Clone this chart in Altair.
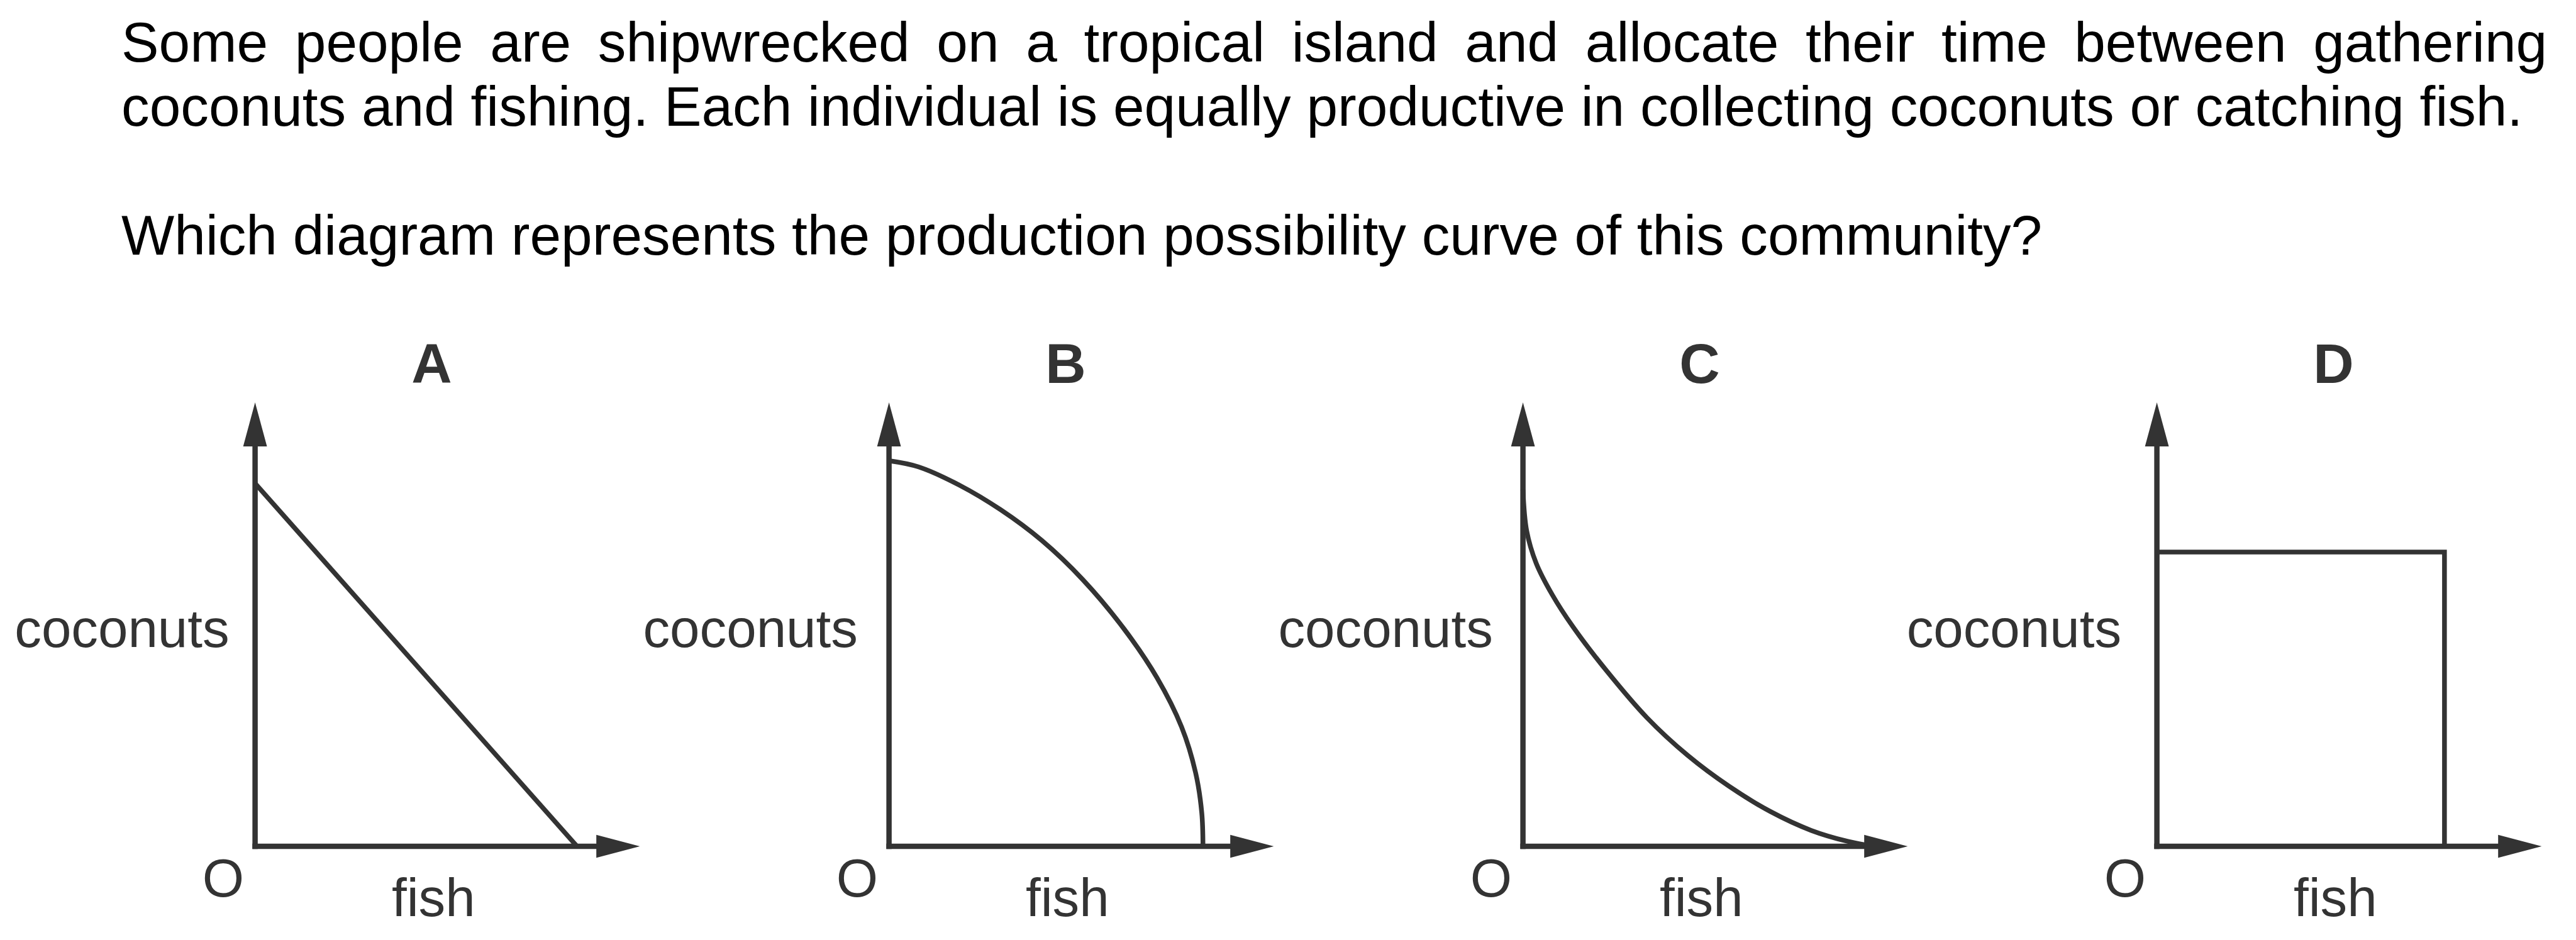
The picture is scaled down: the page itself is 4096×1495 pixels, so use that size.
import altair as alt
import pandas as pd

S = 0.975  # output scale relative to the reference

# ---------------- data ----------------
question_lines = [
    "Some people are shipwrecked on a tropical island and allocate their time between gathering",
    "coconuts and fishing. Each individual is equally productive in collecting coconuts or catching fish.",
    "Which diagram represents the production possibility curve of this community?",
]
question_rows = [0, 1, 3]

panel_names = ["A", "B", "C", "D"]
x_label = "fish"
y_label = "coconuts"
origin_label = "O"

# production possibility curves (fish, coconuts)
A_fish = [0, 525]
A_coco = [592, 0]

B_fish = [0, 48, 115, 182, 249, 316, 383, 437, 477, 500, 510, 512]
B_coco = [629, 619, 589, 549, 499, 435, 355, 275, 195, 120, 55, 0]

C_fish = [0, 6, 21.5, 48, 81.6, 135, 202, 269, 336, 403, 470, 530, 572]
C_coco = [582, 515, 462, 410, 358, 288, 210, 148, 98, 57, 26, 8, 0]

D_fish = [0, 469, 469]
D_coco = [480, 480, 0]

curves_fish = [A_fish, B_fish, C_fish, D_fish]
curves_coco = [A_coco, B_coco, C_coco, D_coco]
curve_interp = ["linear", "catmull-rom", "catmull-rom", "linear"]

# axis extent (arrow tips) in the same units
axis_fish_tip = 627.5
axis_coco_tip = 724

# ---------------- layout / style ----------------
INK = "#333333"
FONT = "Liberation Sans"
HEAD_LEN_Y, HEAD_HW_Y = 71.6, 19.4
HEAD_LEN_X, HEAD_HW_X = 71.0, 18.8
AXIS_W = 8.5
CURVE_W = 7.5
LABEL_SIZE = 87.5 * S
NAME_SIZE = 91.5 * S
TEXT_SIZE = 91.5 * S

X_DOM = [-405, 628]
Y_DOM = [-140, 840]
PW = (X_DOM[1] - X_DOM[0]) * S
PH = (Y_DOM[1] - Y_DOM[0]) * S

coconut_right = [-42, -51, -49, -58]

xs = alt.Scale(domain=X_DOM, nice=False, zero=False)
ys = alt.Scale(domain=Y_DOM, nice=False, zero=False)

up_path = f"M0,0L{HEAD_HW_Y / HEAD_LEN_Y:.4f},1L{-HEAD_HW_Y / HEAD_LEN_Y:.4f},1Z"
right_path = f"M0,0L-1,{-HEAD_HW_X / HEAD_LEN_X:.4f}L-1,{HEAD_HW_X / HEAD_LEN_X:.4f}Z"
up_size = (2 * HEAD_LEN_Y * S) ** 2
right_size = (2 * HEAD_LEN_X * S) ** 2


def panel(i):
    axes_df = pd.DataFrame({
        "x": [0, 0], "y": [0, 0],
        "x2": [0, axis_fish_tip - HEAD_LEN_X + 6],
        "y2": [axis_coco_tip - HEAD_LEN_Y + 6, 0],
    })
    axes = alt.Chart(axes_df).mark_rule(
        color=INK, strokeWidth=AXIS_W, strokeCap="square"
    ).encode(
        x=alt.X("x:Q", scale=xs, axis=None),
        y=alt.Y("y:Q", scale=ys, axis=None),
        x2="x2:Q", y2="y2:Q",
    )
    up_head = alt.Chart(pd.DataFrame({"x": [0], "y": [axis_coco_tip]})).mark_point(
        shape=up_path, filled=True, size=up_size, color=INK, opacity=1, strokeWidth=0
    ).encode(x=alt.X("x:Q", scale=xs, axis=None), y=alt.Y("y:Q", scale=ys, axis=None))
    right_head = alt.Chart(pd.DataFrame({"x": [axis_fish_tip], "y": [0]})).mark_point(
        shape=right_path, filled=True, size=right_size, color=INK, opacity=1, strokeWidth=0
    ).encode(x=alt.X("x:Q", scale=xs, axis=None), y=alt.Y("y:Q", scale=ys, axis=None))

    cdf = pd.DataFrame({
        "fish": curves_fish[i], "coco": curves_coco[i],
        "k": list(range(len(curves_fish[i]))),
    })
    curve = alt.Chart(cdf).mark_line(
        color=INK, strokeWidth=CURVE_W, interpolate=curve_interp[i],
        strokeJoin="miter", strokeCap="butt"
    ).encode(
        x=alt.X("fish:Q", scale=xs, axis=None),
        y=alt.Y("coco:Q", scale=ys, axis=None),
        order="k:Q",
    )

    lab_df = pd.DataFrame({"x": [-52, 291], "y": [-82, -114], "t": [origin_label, x_label]})
    labs = alt.Chart(lab_df).mark_text(
        font=FONT, fontSize=LABEL_SIZE, color=INK, align="center", baseline="alphabetic"
    ).encode(x=alt.X("x:Q", scale=xs, axis=None), y=alt.Y("y:Q", scale=ys, axis=None), text="t:N")

    ylab = alt.Chart(pd.DataFrame({"x": [coconut_right[i]], "y": [325], "t": [y_label]})).mark_text(
        font=FONT, fontSize=LABEL_SIZE, color=INK, align="right", baseline="alphabetic"
    ).encode(x=alt.X("x:Q", scale=xs, axis=None), y=alt.Y("y:Q", scale=ys, axis=None), text="t:N")

    name = alt.Chart(pd.DataFrame({"x": [288], "y": [756], "t": [panel_names[i]]})).mark_text(
        font=FONT, fontSize=NAME_SIZE, fontWeight="bold", color=INK, align="center",
        baseline="alphabetic"
    ).encode(x=alt.X("x:Q", scale=xs, axis=None), y=alt.Y("y:Q", scale=ys, axis=None), text="t:N")

    return alt.layer(axes, curve, up_head, right_head, labs, ylab, name).properties(
        width=PW, height=PH
    )


# question text (first line justified with widened word spaces)
shown = [question_lines[0].replace(" ", " \u2009"), question_lines[1], question_lines[2]]
qdf = pd.DataFrame({"line": shown, "row": question_rows})
text_chart = alt.Chart(qdf).mark_text(
    font=FONT, fontSize=TEXT_SIZE, color="#000000", align="left", baseline="alphabetic"
).encode(
    x=alt.value(182.4),
    y=alt.Y("row:Q", scale=alt.Scale(domain=[0, 3], range=[89.5, 396.6]), axis=None),
    text="line:N",
).properties(width=4 * PW, height=518.5)

panels = alt.hconcat(*[panel(i) for i in range(4)], spacing=0, bounds="flush")

chart = alt.vconcat(text_chart, panels, spacing=0, bounds="flush").properties(
    padding={"left": 2.725, "top": 0, "right": 0, "bottom": 0},
    background="white",
).configure_view(stroke="transparent", strokeWidth=0)

chart.save("out.html", embed_options={"renderer": "svg", "actions": False})
